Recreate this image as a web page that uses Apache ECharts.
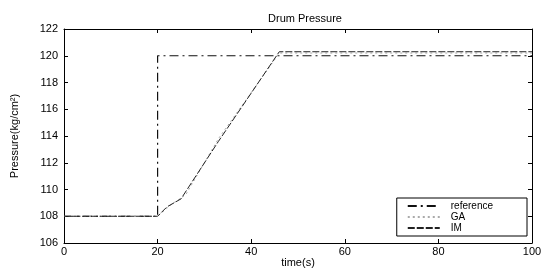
<!DOCTYPE html>
<html>
<head>
<meta charset="utf-8">
<script src="https://cdn.jsdelivr.net/npm/echarts@6/dist/echarts.min.js"></script>
<style>
  html, body { margin: 0; padding: 0; background: #fff; }
  #chart { width: 544px; height: 269px; }
</style>
</head>
<body>
<div id="chart"></div>
<script>
// data
let refTime = [0, 20, 20, 100];
let refPressure = [108, 108, 120, 120];

let gaTime = [0, 20, 23, 26, 33, 46, 100];
let gaPressure = [108, 108, 108.9, 109.6, 113.8, 120.2, 120.2];

let imTime = [0, 20, 22, 25, 33, 46, 100];
let imPressure = [108, 108, 108.7, 109.3, 113.6, 120.3, 120.3];

let xTicks = [0, 20, 40, 60, 80, 100];
let yTicks = [106, 108, 110, 112, 114, 116, 118, 120, 122];

function pairs(xs, ys) {
    let out = [];
    for (let i = 0; i < xs.length; i++) {
        out.push([xs[i], ys[i]]);
    }
    return out;
}

let myChart = echarts.init(document.getElementById('chart'));

let font = 'Liberation Sans, Arial, sans-serif';

let axisCommon = {
    type: 'value',
    axisLine: { show: true, onZero: false, lineStyle: { color: '#000', width: 1 } },
    axisTick: { show: true, inside: true, length: 4, lineStyle: { color: '#000' } },
    splitLine: { show: false }
};

let option = {
    backgroundColor: '#fff',
    animation: false,
    title: {
        text: 'Drum Pressure',
        left: 300,
        top: 8,
        textAlign: 'center',
        textStyle: { fontFamily: font, fontSize: 11, fontWeight: 'normal', color: '#000' }
    },
    grid: { left: 64, right: 12, top: 29, bottom: 26, outerBoundsMode: 'none', containLabel: false },
    legend: {
        right: 17,
        bottom: 33,
        orient: 'vertical',
        backgroundColor: '#fff',
        borderColor: '#000',
        borderWidth: 1,
        borderRadius: 0,
        padding: [3, 34, 3, 10],
        itemGap: 1,
        itemWidth: 32,
        itemHeight: 10,
        itemStyle: { opacity: 0 },
        textStyle: { fontFamily: font, fontSize: 10, color: '#000', padding: [0, 0, 0, 6] },
        data: ['reference', 'GA', 'IM']
    },
    xAxis: [
        Object.assign({}, axisCommon, {
            min: 0, max: 100, interval: 20,
            position: 'bottom',
            name: 'time(s)',
            nameLocation: 'middle',
            nameGap: 14,
            nameMoveOverlap: false,
            nameTextStyle: { fontFamily: font, fontSize: 11, color: '#000' },
            axisLabel: {
                fontFamily: font, fontSize: 11, color: '#000', margin: 3,
                formatter: function (v) { return xTicks.indexOf(v) >= 0 ? String(v) : ''; }
            }
        }),
        Object.assign({}, axisCommon, {
            min: 0, max: 100, interval: 20,
            position: 'top',
            axisLabel: { show: false }
        })
    ],
    yAxis: [
        Object.assign({}, axisCommon, {
            min: 106, max: 122, interval: 2,
            position: 'left',
            name: 'Pressure(kg/cm²)',
            nameLocation: 'middle',
            nameGap: 44,
            nameMoveOverlap: false,
            nameTextStyle: { fontFamily: font, fontSize: 11, color: '#000' },
            axisLabel: {
                fontFamily: font, fontSize: 11, color: '#000', margin: 6,
                formatter: function (v) { return yTicks.indexOf(v) >= 0 ? String(v) : ''; }
            }
        }),
        Object.assign({}, axisCommon, {
            min: 106, max: 122, interval: 2,
            position: 'right',
            axisLabel: { show: false }
        })
    ],
    series: [
        {
            name: 'reference',
            type: 'line',
            symbol: 'none',
            data: pairs(refTime, refPressure),
            lineStyle: { color: '#111', width: 1.2, type: [9, 4, 2, 4] },
            itemStyle: { color: '#111' }
        },
        {
            name: 'GA',
            type: 'line',
            symbol: 'none',
            data: pairs(gaTime, gaPressure),
            lineStyle: { color: '#aaa', width: 1, type: [2, 3] },
            itemStyle: { color: '#aaa' }
        },
        {
            name: 'IM',
            type: 'line',
            symbol: 'none',
            data: pairs(imTime, imPressure),
            lineStyle: { color: '#222', width: 1, type: [7, 2] },
            itemStyle: { color: '#222' }
        }
    ]
};

myChart.setOption(option);
</script>
</body>
</html>
